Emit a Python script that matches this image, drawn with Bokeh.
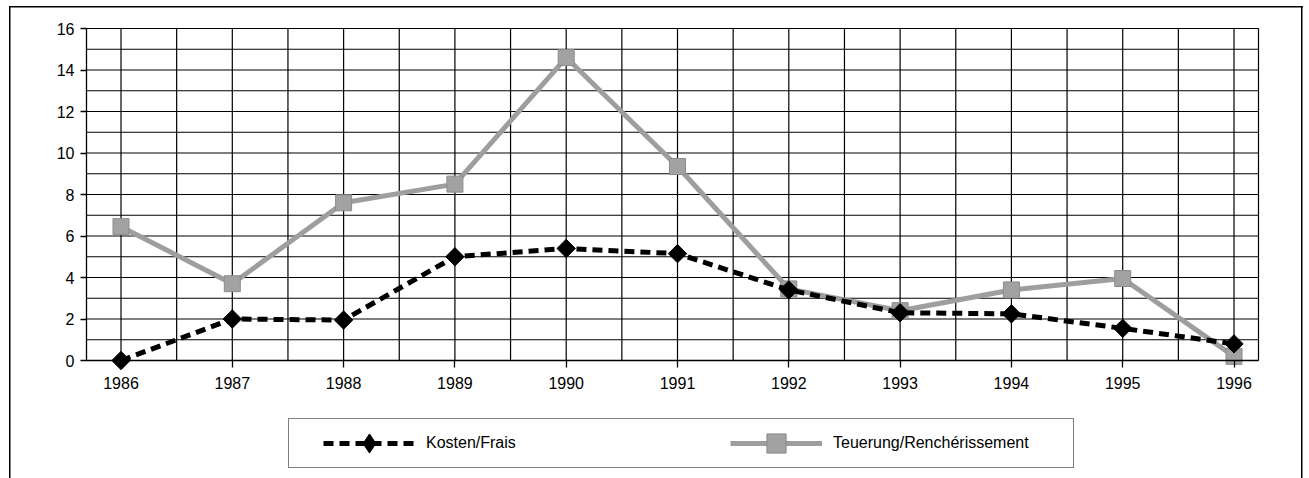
import numpy as np
from bokeh.plotting import figure
from bokeh.models import FixedTicker, Legend, LegendItem, Range1d
from bokeh.embed import file_html
from bokeh.resources import INLINE

years = [1986, 1987, 1988, 1989, 1990, 1991, 1992, 1993, 1994, 1995, 1996]
kosten = [0.0, 2.0, 1.95, 5.0, 5.4, 5.15, 3.4, 2.3, 2.25, 1.55, 0.8]
teuerung = [6.45, 3.7, 7.6, 8.5, 14.6, 9.35, 3.45, 2.4, 3.4, 3.95, 0.2]
y_ticks = [0, 2, 4, 6, 8, 10, 12, 14, 16]
label_kosten = "Kosten/Frais"
label_teuerung = "Teuerung/Renchérissement"

FONT = "Liberation Sans"

# ---- layout (pixels) and plot-area extents (data) ----
W, H = 1309, 478
PL, PR, PT, PB = 86, 1258, 28, 360
x_lo, x_hi = 1985.69, 1996.22
y_lo, y_hi = 0.0, 16.0
kx = (PR - PL) / (x_hi - x_lo)
ky = (PB - PT) / (y_hi - y_lo)
x_start = x_lo - PL / kx
x_end = x_start + W / kx
y_end = y_hi + PT / ky
y_start = y_end - H / ky

p = figure(width=W, height=H, output_backend="svg", toolbar_location=None,
           x_range=Range1d(x_start, x_end), y_range=Range1d(y_start, y_end),
           min_border=0, min_border_left=0, min_border_right=0,
           min_border_top=0, min_border_bottom=0)
p.outline_line_color = None
p.border_fill_color = None
p.background_fill_color = None
p.xgrid.visible = False
p.ygrid.visible = False
# outer frame of the page
p.styles = {
    "background": ("linear-gradient(#000,#000) 9px 6px / 1.5px 600px no-repeat, "
                   "linear-gradient(#000,#000) 9px 6px / 1294px 1.5px no-repeat, "
                   "linear-gradient(#000,#000) 1301px 6px / 1.5px 600px no-repeat, #fff"),
}

# grid of the plot area: every half year, every unit
vx = [y + h for y in range(1986, 1997) for h in (0.0, 0.5) if y + h <= 1996] + [x_hi]
hy = list(range(0, 17))
p.segment(x0=vx, y0=[y_lo] * len(vx), x1=vx, y1=[y_hi] * len(vx),
          line_color="black", line_width=1.2)
p.segment(x0=[x_lo] * len(hy), y0=hy, x1=[x_hi] * len(hy), y1=hy,
          line_color="black", line_width=1.2)

# axes pinned to the plot area
p.xaxis.fixed_location = y_lo
p.yaxis.fixed_location = x_lo
p.xaxis.bounds = (x_lo, x_hi)
p.yaxis.bounds = (y_lo, y_hi)
p.xaxis.ticker = FixedTicker(ticks=years)
p.yaxis.ticker = FixedTicker(ticks=y_ticks)
for ax in (p.xaxis, p.yaxis):
    ax.axis_line_color = "black"
    ax.axis_line_width = 1.3
    ax.major_tick_line_color = "black"
    ax.major_tick_line_width = 1.3
    ax.major_tick_in = 0
    ax.minor_tick_line_color = None
    ax.major_label_text_font = FONT
    ax.major_label_text_font_size = "16px"
    ax.major_label_text_color = "black"
p.xaxis.major_tick_out = 7
p.xaxis.major_label_standoff = 9
p.yaxis.major_tick_out = 6
p.yaxis.major_label_standoff = 6

# series
tl = p.line(years, teuerung, line_color="#9e9e9e", line_width=5)
ts = p.scatter(years, teuerung, marker="square", size=16, fill_color="#a2a2a2",
               line_color="#8c8c8c", line_width=1)
kl = p.line(years, kosten, line_color="black", line_width=5, line_dash="10 6")
# narrow diamond (used by the legend) hidden under the rotated squares
kd = p.scatter(years, kosten, marker="diamond", size=11,
               fill_color="black", line_color="black")
ks = p.scatter(years, kosten, marker="square", angle=np.pi / 4, size=13,
               fill_color="black", line_color="black")

legend = Legend(items=[LegendItem(label=label_kosten, renderers=[kl, kd]),
                       LegendItem(label=label_teuerung, renderers=[tl, ts])],
                location=(288, 10), orientation="horizontal",
                title=" ", title_location="left", title_standoff=16,
                title_text_font_size="16px",
                glyph_width=92, glyph_height=48, label_standoff=11,
                label_width=240, spacing=64, padding=0, margin=0,
                border_line_color="black", border_line_width=1.3,
                background_fill_color="white", background_fill_alpha=1.0,
                label_text_font=FONT, label_text_font_size="16px",
                label_text_color="black")
p.add_layout(legend, "center")

open("out.html", "w").write(file_html(p, INLINE))
